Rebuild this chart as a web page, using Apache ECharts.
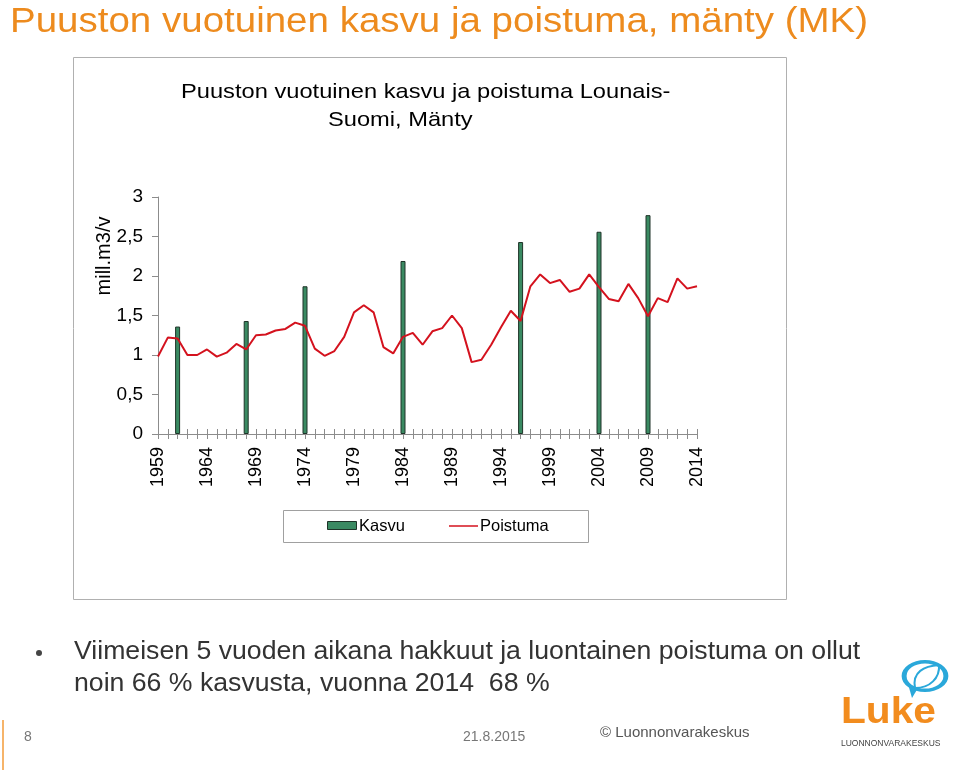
<!DOCTYPE html>
<html>
<head>
<meta charset="utf-8">
<script src="https://cdn.jsdelivr.net/npm/echarts@6/dist/echarts.min.js"></script>
<style>
html,body{margin:0;padding:0;background:#fff;}
#c{width:960px;height:770px;}
</style>
</head>
<body>
<div id="c"></div>
<script>
var years = [];
for (var y = 1959; y <= 2014; y++) years.push(String(y));

var kasvuYears = ['1961', '1968', '1974', '1984', '1996', '2004', '2009'];
var kasvuValues = [1.36, 1.43, 1.87, 2.19, 2.43, 2.56, 2.77];

var poistuma = [
  0.98, 1.22, 1.21, 1.00, 1.00, 1.07, 0.98, 1.03, 1.14, 1.07,
  1.25, 1.26, 1.31, 1.33, 1.41, 1.37, 1.08, 0.99, 1.05, 1.23,
  1.54, 1.63, 1.54, 1.10, 1.02, 1.23, 1.28, 1.13, 1.30, 1.34,
  1.50, 1.34, 0.91, 0.94, 1.13, 1.35, 1.56, 1.43, 1.87, 2.02,
  1.91, 1.95, 1.80, 1.84, 2.02, 1.86, 1.71, 1.68, 1.90, 1.72,
  1.49, 1.72, 1.67, 1.97, 1.84, 1.87
];

var yTicks = ['0', '0,5', '1', '1,5', '2', '2,5', '3'];
var seriesNames = ['Kasvu', 'Poistuma'];

var kasvuData = kasvuYears.map(function (yr, i) { return [yr, kasvuValues[i]]; });

var chart = echarts.init(document.getElementById('c'), null, {renderer: 'canvas'});
var FONT = 'Liberation Sans, Arial, sans-serif';
var GREEN = '#3A8A62', RED = '#D4121E';

function txt(x, y, s, size, color, sx, weight) {
  return {type: 'text', x: x, y: y, scaleX: sx || 1, originX: 0, originY: 0,
    style: {text: s, fontSize: size, fontFamily: FONT, fill: color, fontWeight: weight || 'normal',
      textAlign: 'left', textVerticalAlign: 'middle'}};
}

chart.setOption({
  animation: false,
  textStyle: {fontFamily: FONT},
  grid: {left: 158, right: 263, top: 197, bottom: 336, containLabel: false},
  xAxis: [{
    type: 'category',
    data: years,
    boundaryGap: false,
    axisLine: {lineStyle: {color: '#8c8c8c', width: 1}},
    axisTick: {show: true, interval: 0, length: 5, lineStyle: {color: '#8c8c8c'}},
    axisLabel: {interval: 4, rotate: 90, fontSize: 18, color: '#000', margin: 13, fontFamily: FONT},
    splitLine: {show: false}
  }, {
    type: 'category',
    data: years,
    boundaryGap: false,
    position: 'bottom',
    axisLine: {show: false},
    axisTick: {show: true, inside: true, interval: 0, length: 5, lineStyle: {color: '#8c8c8c'}},
    axisLabel: {show: false},
    splitLine: {show: false}
  }],
  yAxis: {
    type: 'value',
    min: 0, max: 3, interval: 0.5,
    axisLine: {show: true, lineStyle: {color: '#8c8c8c'}},
    axisTick: {show: true, length: 6, lineStyle: {color: '#8c8c8c'}},
    axisLabel: {
      fontSize: 19, color: '#000', margin: 15, fontFamily: FONT,
      formatter: function (v) { return yTicks[Math.round(v * 2)]; }
    },
    splitLine: {show: false}
  },
  series: [{
    name: seriesNames[0],
    type: 'bar',
    xAxisIndex: 0,
    data: kasvuData,
    barWidth: 5,
    itemStyle: {color: GREEN, borderColor: '#1e3328', borderWidth: 1}
  }, {
    name: seriesNames[1],
    type: 'line',
    xAxisIndex: 0,
    data: poistuma,
    symbol: 'none',
    showSymbol: false,
    lineStyle: {color: RED, width: 2},
    itemStyle: {color: RED},
    z: 3
  }],
  graphic: [
    {type: 'rect', shape: {x: 73.5, y: 57.5, width: 713, height: 542},
     style: {fill: 'none', stroke: '#b0b0b0', lineWidth: 1}, z: -1},
    // legend
    {type: 'rect', shape: {x: 283.5, y: 510.5, width: 305, height: 32},
     style: {fill: '#fff', stroke: '#a0a0a0', lineWidth: 1}, z: -1},
    {type: 'rect', shape: {x: 327.5, y: 521.5, width: 29, height: 8},
     style: {fill: GREEN, stroke: '#1e3328', lineWidth: 1}},
    txt(359, 526, seriesNames[0], 16.5, '#000'),
    {type: 'line', shape: {x1: 449, y1: 526, x2: 478, y2: 526}, style: {stroke: RED, lineWidth: 1.5}},
    txt(480, 526, seriesNames[1], 16.5, '#000'),
    // titles
    txt(10, 22, 'Puuston vuotuinen kasvu ja poistuma, mänty (MK)', 35, '#ED8B1E', 1.10),
    txt(181, 92, 'Puuston vuotuinen kasvu ja poistuma Lounais-', 21, '#000', 1.127),
    txt(328, 120, 'Suomi, Mänty', 21, '#000', 1.127),
    {type: 'text', x: 104, y: 256, rotation: Math.PI / 2,
     style: {text: 'mill.m3/v', fontSize: 20, fontFamily: FONT, fill: '#000', textAlign: 'center', textVerticalAlign: 'middle'}},
    // bullet
    {type: 'circle', shape: {cx: 39, cy: 653, r: 3}, style: {fill: '#444'}},
    txt(74, 652, 'Viimeisen 5 vuoden aikana hakkuut ja luontainen poistuma on ollut', 25, '#333', 1.066),
    txt(74, 684, 'noin 66 % kasvusta, vuonna 2014  68 %', 25, '#333', 1.066),
    // footer
    {type: 'rect', shape: {x: 2, y: 720, width: 2, height: 50}, style: {fill: '#F6B46A'}},
    txt(24, 737, '8', 14, '#777'),
    txt(463, 737, '21.8.2015', 14, '#777'),
    txt(600, 733, '© Luonnonvarakeskus', 15, '#555'),
    // logo
    {type: 'circle', x: 925, y: 676, scaleX: 1.1, scaleY: 0.75, shape: {cx: 0, cy: 0, r: 19},
     style: {fill: 'none', stroke: '#2AA8DA', lineWidth: 4.5}},
    {type: 'polygon', shape: {points: [[908, 684], [912, 698], [918, 688]]}, style: {fill: '#2AA8DA'}},
    {type: 'bezierCurve', shape: {x1: 915, y1: 688, x2: 939, y2: 665, cpx1: 912, cpy1: 672, cpx2: 924, cpy2: 666},
     style: {fill: 'none', stroke: '#2AA8DA', lineWidth: 2}},
    {type: 'bezierCurve', shape: {x1: 915, y1: 688, x2: 939, y2: 665, cpx1: 930, cpy1: 688, cpx2: 940, cpy2: 678},
     style: {fill: 'none', stroke: '#2AA8DA', lineWidth: 2}},
    txt(841, 713, 'Luke', 37, '#F28C1E', 1.1, 'bold'),
    txt(841, 744, 'LUONNONVARAKESKUS', 8.5, '#444')
  ]
});
</script>
</body>
</html>
